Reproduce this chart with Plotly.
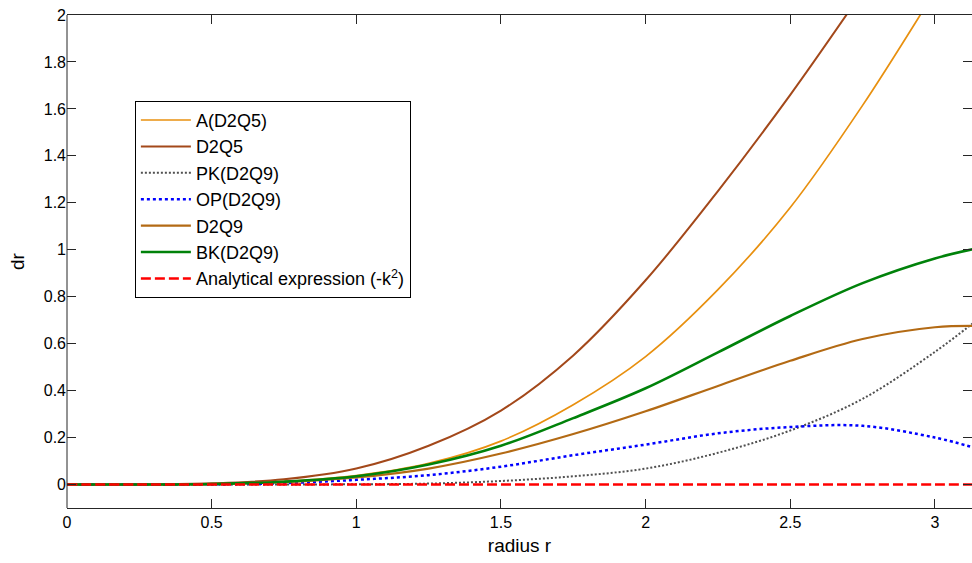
import plotly.graph_objects as go

# Sampled radius values (0 .. pi)
r = [0, 0.25, 0.5, 0.75, 1.0, 1.25, 1.5, 1.75, 2.0, 2.25, 2.5, 2.75, 3.0, 3.1416]

# Deviation dr of each scheme from the analytical expression
a_d2q5 = [0, 0.0002, 0.003, 0.013, 0.038, 0.09, 0.185, 0.34, 0.545, 0.83, 1.18, 1.615, 2.1, 2.38]
d2q5 = [0, 0.0003, 0.005, 0.022, 0.068, 0.165, 0.315, 0.55, 0.87, 1.25, 1.66, 2.1, 2.55, 2.8]
pk_d2q9 = [0, 0, 0, 0.0005, 0.001, 0.004, 0.015, 0.035, 0.068, 0.135, 0.23, 0.365, 0.565, 0.697]
op_d2q9 = [0, 0, 0.001, 0.006, 0.02, 0.04, 0.076, 0.125, 0.17, 0.218, 0.245, 0.25, 0.2, 0.155]
d2q9 = [0, 0, 0.002, 0.01, 0.03, 0.068, 0.132, 0.215, 0.312, 0.42, 0.527, 0.62, 0.67, 0.676]
bk_d2q9 = [0, 0, 0.002, 0.012, 0.035, 0.085, 0.165, 0.283, 0.41, 0.563, 0.718, 0.858, 0.963, 1.005]
analytical = [0] * len(r)

names = ["A(D2Q5)", "D2Q5", "PK(D2Q9)", "OP(D2Q9)", "D2Q9", "BK(D2Q9)",
         "Analytical expression (-k<sup>2</sup>)"]

FONT = "Liberation Sans, Arial, sans-serif"

series = [
    (a_d2q5, dict(color="#E8900F", width=1.7, dash="solid")),
    (d2q5, dict(color="#A3481A", width=2, dash="solid")),
    (pk_d2q9, dict(color="#505050", width=2, dash="2px,2px")),
    (op_d2q9, dict(color="#0000FF", width=2.5, dash="3px,3px")),
    (d2q9, dict(color="#B36A14", width=2.2, dash="solid")),
    (bk_d2q9, dict(color="#00820A", width=2.6, dash="solid")),
    (analytical, dict(color="#FF0000", width=2.5, dash="10px,4px")),
]

fig = go.Figure()
for name, (vals, line) in zip(names, series):
    fig.add_trace(go.Scatter(
        x=r, y=vals, name=name, mode="lines",
        line=dict(shape="spline", smoothing=1.0, **line),
    ))

axis_color = "#262626"
fig.update_layout(
    width=972, height=563,
    margin=dict(l=67, r=0, t=15, b=55),
    paper_bgcolor="white", plot_bgcolor="white",
    font=dict(family=FONT, size=16, color="black"),
    showlegend=True,
    legend=dict(
        x=0.075, y=0.826, xanchor="left", yanchor="top",
        bgcolor="white", bordercolor="black", borderwidth=1,
        font=dict(family=FONT, size=18, color="black"),
        itemwidth=50, tracegroupgap=0,
    ),
    xaxis=dict(
        range=[0, (972 - 67) / 289.3], dtick=0.5, tick0=0,
        showgrid=False, zeroline=False,
        showline=True, linecolor=axis_color, linewidth=1, mirror="ticks",
        ticks="inside", ticklen=9, tickcolor=axis_color,
        title=dict(text="radius r", font=dict(size=19), standoff=8),
    ),
    yaxis=dict(
        range=[-0.1, 2], dtick=0.2, tick0=0,
        showgrid=False, zeroline=False,
        showline=False, mirror="ticks",
        ticks="inside", ticklen=9, tickcolor=axis_color,
        title=dict(text="dr", font=dict(size=19), standoff=14),
    ),
    shapes=[dict(type="line", xref="paper", yref="paper", x0=0, x1=0, y0=0, y1=1,
                 line=dict(color=axis_color, width=1), layer="above")],
)

fig.write_html("out.html")
